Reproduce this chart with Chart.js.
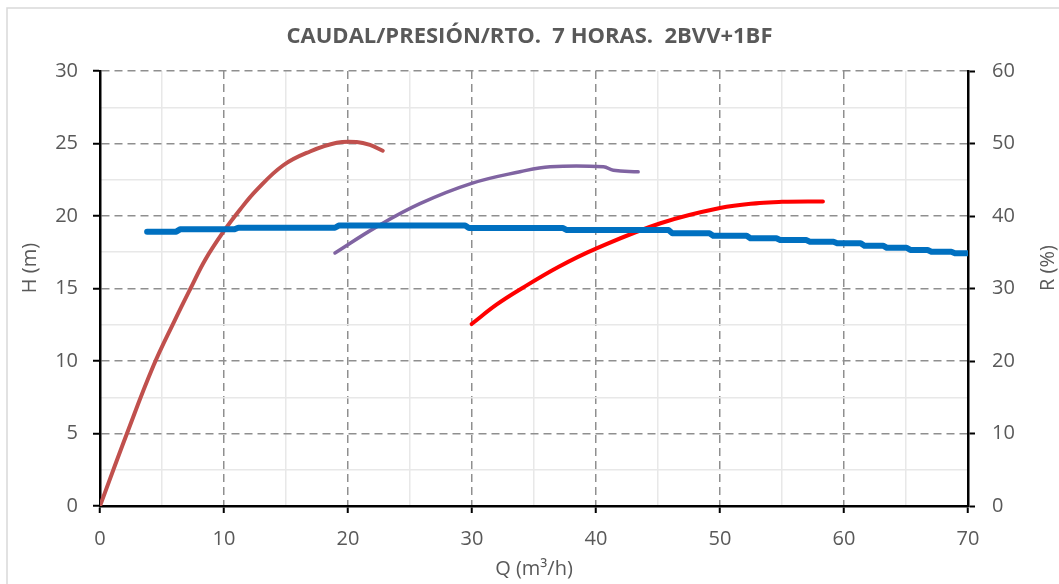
<!DOCTYPE html>
<html>
<head>
<meta charset="utf-8">
<script src="https://cdn.jsdelivr.net/npm/chart.js@4.4.1/dist/chart.umd.min.js"></script>
<style>
html,body{margin:0;padding:0;background:#fff;}
#wrap{width:1059px;height:584px;position:relative;}
</style>
</head>
<body>
<div id="wrap"><canvas id="c" width="1059" height="584"></canvas></div>
<script>
// ---- data ----
const titleText = 'CAUDAL/PRESIÓN/RTO.  7 HORAS.  2BVV+1BF';
const xTitle = 'Q (m³/h)';
const yTitle = 'H (m)';
const y2Title = 'R (%)';

// H (m) curve, blue, left axis
const qBlue = [3.8, 6.15, 6.45, 10.85, 11.15, 18.95, 19.25, 29.45, 29.75, 37.35, 37.65,
               45.85, 46.15, 49.15, 49.45, 52.15, 52.45, 54.55, 54.85, 56.95, 57.25,
               59.15, 59.45, 61.35, 61.65, 63.15, 63.45, 65.05, 65.35, 66.75, 67.05, 68.65, 68.95, 70];
const hBlue = [18.92, 18.92, 19.08, 19.08, 19.19, 19.19, 19.34, 19.34, 19.17, 19.17, 19.03,
               19.03, 18.81, 18.81, 18.64, 18.64, 18.46, 18.46, 18.34, 18.34, 18.23,
               18.23, 18.12, 18.12, 17.95, 17.95, 17.81, 17.81, 17.66, 17.66, 17.54, 17.54, 17.43, 17.43];

// R (%) curves, right axis
const qBrown = [0, 2.15, 4.3, 6.0, 7.3, 8.5, 9.94, 11.3, 12.64, 14.78, 16.94, 19.09, 20.7, 21.77, 22.8];
const rBrown = [0, 9.9, 19.3, 25.5, 30.0, 34.0, 37.8, 40.9, 43.6, 47.0, 48.9, 50.1, 50.2, 49.8, 49.0];

const qPurple = [18.95, 22.3, 25.8, 29.97, 33.87, 36.3, 40.6, 41.4, 43.4];
const rPurple = [34.9, 38.5, 41.7, 44.5, 46.1, 46.8, 46.8, 46.3, 46.1];

const qRed = [29.97, 32.0, 34.0, 37.0, 40.0, 45.2, 50.0, 53.2, 55.0, 58.3];
const rRed = [25.1, 27.8, 30.0, 33.0, 35.5, 39.0, 41.1, 41.8, 41.95, 42.0];

const xTicksMajor = [0, 10, 20, 30, 40, 50, 60, 70];
const yTicksMajor = [0, 5, 10, 15, 20, 25, 30];
const y2TicksMajor = [0, 10, 20, 30, 40, 50, 60];
// ---------------------------------------

const pts = (xs, ys) => xs.map((x, i) => ({x: x, y: ys[i]}));
const FONT = "'Open Sans', 'Liberation Sans', sans-serif";
const TXT = '#595959';

const bgAndFrame = {
  id: 'bgAndFrame',
  beforeDraw(chart) {
    const ctx = chart.ctx;
    ctx.save();
    ctx.fillStyle = '#fff';
    ctx.fillRect(0, 0, chart.width, chart.height);
    ctx.strokeStyle = '#d9d9d9';
    ctx.lineWidth = 1.5;
    ctx.beginPath();
    ctx.moveTo(7, chart.height);
    ctx.lineTo(7, 8);
    ctx.lineTo(chart.width, 8);
    ctx.stroke();
    ctx.restore();
  },
  afterDraw(chart) {
    const ctx = chart.ctx;
    const cy = 268;
    [[30, yTitle], [1048, y2Title]].forEach(([cx, t]) => {
      ctx.save();
      ctx.fillStyle = TXT;
      ctx.font = "20px " + FONT;
      ctx.textAlign = 'center';
      ctx.textBaseline = 'middle';
      ctx.translate(cx, cy);
      ctx.rotate(-Math.PI / 2);
      ctx.fillText(t, 0, 0);
      ctx.restore();
    });
  }
};

const majorGrid = {color: '#8f8f8f', lineWidth: 1.5, tickLength: 7, tickColor: '#000', tickWidth: 2};
const majorBorder = {color: '#000', width: 2.5, dash: [8, 5]};

new Chart(document.getElementById('c'), {
  type: 'scatter',
  data: {
    datasets: [
      {label: 'H', data: pts(qBlue, hBlue), yAxisID: 'y', xAxisID: 'x', showLine: true,
       borderColor: '#0070C0', borderWidth: 6, pointRadius: 0, tension: 0,
       borderCapStyle: 'round', borderJoinStyle: 'round'},
      {label: 'R1', data: pts(qBrown, rBrown), yAxisID: 'y2', xAxisID: 'x', showLine: true,
       borderColor: '#C0504D', borderWidth: 4, pointRadius: 0, tension: 0.4,
       borderCapStyle: 'round'},
      {label: 'R2', data: pts(qPurple, rPurple), yAxisID: 'y2', xAxisID: 'x', showLine: true,
       borderColor: '#8064A2', borderWidth: 3.5, pointRadius: 0, tension: 0.4,
       borderCapStyle: 'round'},
      {label: 'R3', data: pts(qRed, rRed), yAxisID: 'y2', xAxisID: 'x', showLine: true,
       borderColor: '#FF0000', borderWidth: 4, pointRadius: 0, tension: 0.4,
       borderCapStyle: 'round'}
    ]
  },
  options: {
    responsive: false,
    animation: false,
    events: [],
    layout: {padding: 0},
    plugins: {
      legend: {display: false},
      tooltip: {enabled: false},
      title: {
        display: true, text: titleText, color: TXT,
        font: {family: FONT, size: 22, weight: 'bold', lineHeight: 1.2},
        padding: {top: 24, bottom: 20.6}
      }
    },
    scales: {
      x: {
        type: 'linear', position: 'bottom', min: 0, max: 70,
        afterBuildTicks: s => { s.ticks = xTicksMajor.map(v => ({value: v})); },
        ticks: {color: TXT, font: {family: FONT, size: 20}, padding: 14, maxRotation: 0},
        grid: majorGrid, border: majorBorder,
        title: {display: true, text: xTitle, color: TXT, font: {family: FONT, size: 20}, padding: {top: 0, bottom: 3}},
        afterFit: s => { s.height = 78; }
      },
      xMinor: {
        type: 'linear', position: 'bottom', min: 0, max: 70,
        ticks: {display: false, stepSize: 5},
        grid: {color: c => (c.tick && c.tick.value % 10 !== 0) ? '#e8e8e8' : 'rgba(0,0,0,0)', lineWidth: 1.5, drawTicks: false},
        border: {display: false},
        afterFit: s => { s.height = 0; }
      },
      y: {
        type: 'linear', position: 'left', min: 0, max: 30,
        afterBuildTicks: s => { s.ticks = yTicksMajor.map(v => ({value: v})); },
        ticks: {color: TXT, font: {family: FONT, size: 20}, padding: 15},
        grid: majorGrid, border: majorBorder,
        afterFit: s => { s.width = 100; }
      },
      yMinor: {
        type: 'linear', position: 'left', min: 0, max: 30,
        ticks: {display: false, stepSize: 2.5},
        grid: {color: c => (c.tick && c.tick.value % 5 !== 0) ? '#e8e8e8' : 'rgba(0,0,0,0)', lineWidth: 1.5, drawTicks: false},
        border: {display: false},
        afterFit: s => { s.width = 0; }
      },
      y2: {
        type: 'linear', position: 'right', min: 0, max: 60,
        afterBuildTicks: s => { s.ticks = y2TicksMajor.map(v => ({value: v})); },
        ticks: {color: TXT, font: {family: FONT, size: 20}, padding: 17},
        grid: {drawOnChartArea: false, tickLength: 7, tickColor: '#000', tickWidth: 2},
        border: {color: '#000', width: 2.5},
        afterFit: s => { s.width = 91; }
      }
    }
  },
  plugins: [bgAndFrame]
});
</script>
</body>
</html>
